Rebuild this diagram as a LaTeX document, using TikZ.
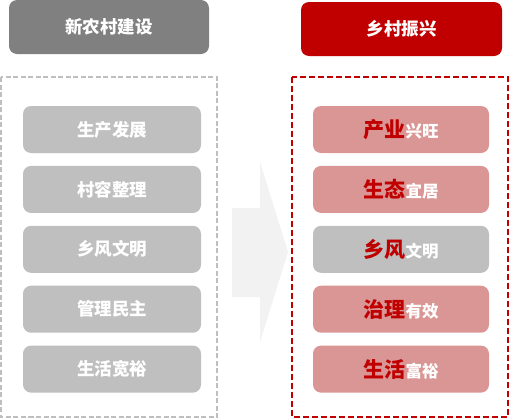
\documentclass[tikz,border=0pt]{standalone}
\usepackage{fontspec}
\setmainfont{Noto Sans CJK SC}
\usepackage{tikz}
\usetikzlibrary{positioning, calc}
\definecolor{hdgray}{HTML}{808080}
\definecolor{itemgray}{HTML}{BFBFBF}
\definecolor{darkred}{HTML}{C00000}
\definecolor{itempink}{HTML}{D99694}
\definecolor{arrowgray}{HTML}{F2F2F2}
\newcommand{\redlead}[2]{{\fontsize{21}{25}\selectfont\color{darkred}#1}{\fontsize{16.5}{20}\selectfont\color{white}#2}}
\tikzset{
  header/.style={
    rectangle, rounded corners=8pt,
    minimum width=200pt, minimum height=54pt, inner sep=0pt,
    text=white, font=\bfseries\fontsize{17.5}{21}\selectfont
  },
  item/.style={
    rectangle, rounded corners=8pt, fill=itemgray,
    minimum width=178pt, minimum height=47pt, inner sep=0pt,
    text=white, font=\bfseries\fontsize{17.5}{21}\selectfont
  },
  goal/.style={item, fill=itempink, minimum width=176pt},
  oldframe/.style={draw=itemgray, line width=1.2pt, dash pattern=on 5pt off 2.5pt},
  newframe/.style={draw=darkred, line width=2pt, dash pattern=on 6pt off 3pt},
}

\begin{document}
\begin{tikzpicture}[x=1pt, y=-1pt]
  \useasboundingbox (0,0) rectangle (509,418);

  % Frames and arrow
  \draw[oldframe] (1,77) rectangle (217,417);
  \draw[newframe] (292,77) rectangle (508,417);
  \fill[arrowgray] (232,208) -- (260,208) -- (260,162) -- (288,252)
    -- (260,342) -- (260,297) -- (232,297) -- cycle;

  % Headers
  \node[header, fill=hdgray] (old) at (109,27) {新农村建设};
  \node[header, fill=darkred, minimum width=201pt] (new) at (401.5,29) {乡村振兴};

  % Left column
  \node[item] (o1) at (112,129.5) {生产发展};
  \node[item, below=12.5pt of o1] (o2) {村容整理};
  \node[item, below=12.5pt of o2] (o3) {乡风文明};
  \node[item, below=12.5pt of o3] (o4) {管理民主};
  \node[item, below=12.5pt of o4] (o5) {生活宽裕};

  % Right column
  \node[goal] (n1) at (401,129.5) {\redlead{产业}{兴旺}};
  \node[goal, below=12.5pt of n1] (n2) {\redlead{生态}{宜居}};
  \node[goal, fill=itemgray, below=12.5pt of n2] (n3) {\redlead{乡风}{文明}};
  \node[goal, below=12.5pt of n3] (n4) {\redlead{治理}{有效}};
  \node[goal, below=12.5pt of n4] (n5) {\redlead{生活}{富裕}};
\end{tikzpicture}
\end{document}
